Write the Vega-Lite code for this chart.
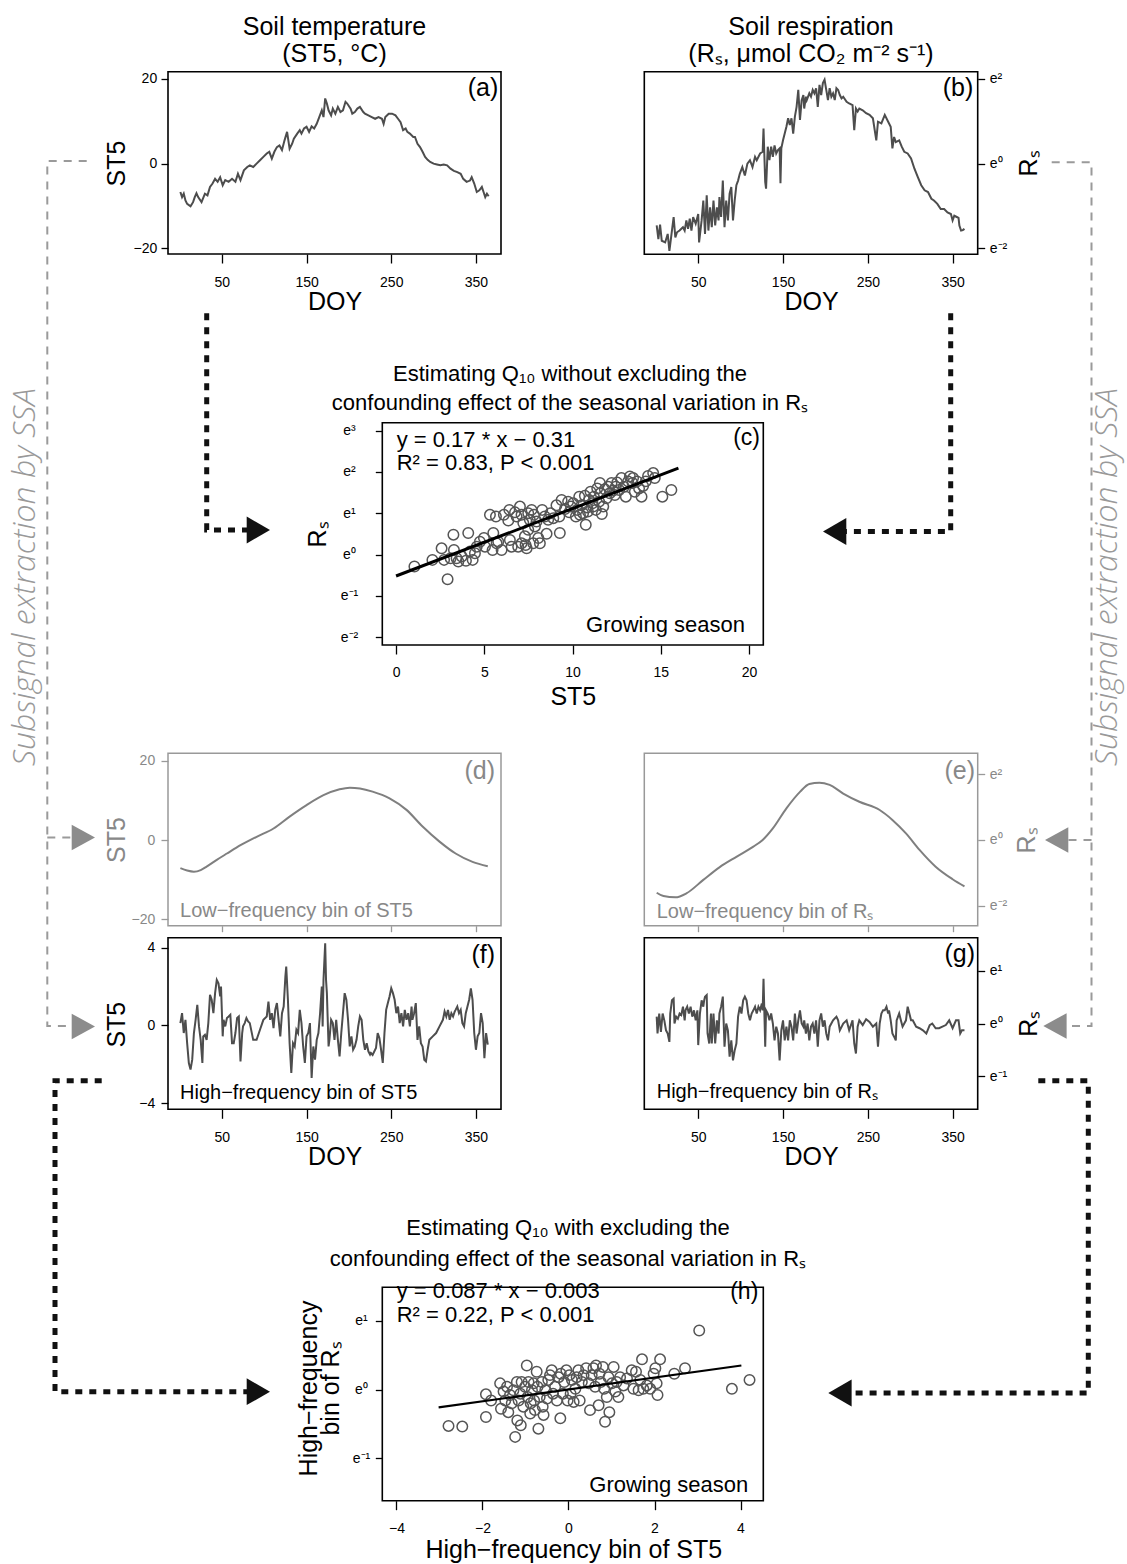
{
"$schema": "https://vega.github.io/schema/vega-lite/v6.json",
"width": 1127, "height": 1564,
"autosize": {"type": "none"},
"padding": 0,
"background": "white",
"config": {
  "font": "Liberation Sans",
  "view": {"stroke": null},
  "axis": {"grid": false, "domain": false, "tickColor": "#000", "tickWidth": 1.3, "labelColor": "#000", "labelFont": "Liberation Sans", "labelFontSize": 14, "titleFont": "Liberation Sans", "titleFontSize": 25, "titleFontWeight": "normal", "titleColor": "#000", "labelFlush": false, "labelOverlap": false, "labelBound": false}
},
"datasets": {
  "st5": [{"doy":1,"st5":-6.7},{"doy":3,"st5":-7.9},{"doy":5,"st5":-7.1},{"doy":7,"st5":-8.7},{"doy":9,"st5":-9.5},{"doy":13,"st5":-10.1},{"doy":16,"st5":-9.1},{"doy":18,"st5":-7.9},{"doy":20,"st5":-7.0},{"doy":22,"st5":-7.9},{"doy":26,"st5":-9.1},{"doy":30,"st5":-7.1},{"doy":33,"st5":-7.5},{"doy":36,"st5":-5.5},{"doy":39,"st5":-4.7},{"doy":42,"st5":-3.6},{"doy":45,"st5":-4.3},{"doy":48,"st5":-3.2},{"doy":51,"st5":-5.1},{"doy":54,"st5":-3.9},{"doy":58,"st5":-4.3},{"doy":62,"st5":-3.6},{"doy":66,"st5":-4.3},{"doy":69,"st5":-2.4},{"doy":72,"st5":-3.9},{"doy":76,"st5":-1.6},{"doy":80,"st5":-0.8},{"doy":83,"st5":-0.4},{"doy":87,"st5":-0.8},{"doy":91,"st5":0.0},{"doy":95,"st5":0.8},{"doy":99,"st5":1.6},{"doy":103,"st5":2.4},{"doy":106,"st5":2.8},{"doy":109,"st5":1.2},{"doy":112,"st5":2.8},{"doy":115,"st5":3.9},{"doy":118,"st5":4.3},{"doy":121,"st5":3.2},{"doy":124,"st5":5.5},{"doy":127,"st5":7.5},{"doy":130,"st5":3.5},{"doy":133,"st5":4.7},{"doy":135,"st5":5.9},{"doy":139,"st5":7.1},{"doy":142,"st5":7.9},{"doy":144,"st5":7.1},{"doy":147,"st5":8.3},{"doy":150,"st5":8.7},{"doy":153,"st5":7.5},{"doy":156,"st5":8.8},{"doy":159,"st5":8.3},{"doy":162,"st5":9.4},{"doy":165,"st5":11.0},{"doy":168,"st5":12.6},{"doy":170,"st5":11.0},{"doy":172,"st5":15.4},{"doy":174,"st5":14.2},{"doy":176,"st5":12.6},{"doy":179,"st5":11.4},{"doy":181,"st5":13.0},{"doy":184,"st5":11.8},{"doy":187,"st5":13.4},{"doy":190,"st5":12.2},{"doy":193,"st5":12.6},{"doy":196,"st5":14.6},{"doy":198,"st5":14.2},{"doy":202,"st5":13.0},{"doy":204,"st5":11.8},{"doy":207,"st5":12.2},{"doy":210,"st5":13.0},{"doy":213,"st5":13.4},{"doy":217,"st5":12.2},{"doy":219,"st5":11.8},{"doy":223,"st5":11.4},{"doy":227,"st5":11.0},{"doy":231,"st5":10.6},{"doy":235,"st5":11.0},{"doy":239,"st5":10.6},{"doy":241,"st5":9.4},{"doy":243,"st5":11.0},{"doy":247,"st5":11.8},{"doy":251,"st5":11.8},{"doy":255,"st5":11.4},{"doy":258,"st5":10.6},{"doy":261,"st5":9.8},{"doy":264,"st5":7.9},{"doy":267,"st5":8.3},{"doy":269,"st5":7.5},{"doy":272,"st5":7.1},{"doy":276,"st5":6.3},{"doy":278,"st5":6.3},{"doy":281,"st5":4.7},{"doy":284,"st5":3.9},{"doy":287,"st5":2.8},{"doy":290,"st5":1.6},{"doy":293,"st5":0.9},{"doy":296,"st5":0.4},{"doy":300,"st5":0.0},{"doy":304,"st5":-0.2},{"doy":308,"st5":-0.4},{"doy":312,"st5":-0.2},{"doy":316,"st5":-0.4},{"doy":320,"st5":-1.2},{"doy":324,"st5":-1.7},{"doy":328,"st5":-2.0},{"doy":332,"st5":-2.4},{"doy":335,"st5":-3.6},{"doy":339,"st5":-4.3},{"doy":343,"st5":-4.0},{"doy":345,"st5":-3.2},{"doy":348,"st5":-4.7},{"doy":351,"st5":-6.7},{"doy":354,"st5":-6.3},{"doy":357,"st5":-5.5},{"doy":359,"st5":-6.7},{"doy":361,"st5":-7.9},{"doy":363,"st5":-7.1},{"doy":365,"st5":-7.7}],
  "rs": [{"doy":1,"rs":-1.46},{"doy":3,"rs":-1.78},{"doy":5,"rs":-1.44},{"doy":7,"rs":-1.82},{"doy":11,"rs":-1.86},{"doy":14,"rs":-1.66},{"doy":16,"rs":-2.06},{"doy":19,"rs":-1.58},{"doy":21,"rs":-1.26},{"doy":23,"rs":-1.74},{"doy":25,"rs":-1.62},{"doy":28,"rs":-1.58},{"doy":32,"rs":-1.5},{"doy":34,"rs":-1.58},{"doy":36,"rs":-1.34},{"doy":38,"rs":-1.54},{"doy":40,"rs":-1.3},{"doy":42,"rs":-1.58},{"doy":44,"rs":-1.26},{"doy":47,"rs":-1.42},{"doy":50,"rs":-1.19},{"doy":51,"rs":-1.86},{"doy":54,"rs":-1.34},{"doy":56,"rs":-0.87},{"doy":58,"rs":-1.66},{"doy":60,"rs":-0.75},{"doy":62,"rs":-1.58},{"doy":64,"rs":-1.03},{"doy":66,"rs":-1.5},{"doy":68,"rs":-0.87},{"doy":70,"rs":-1.46},{"doy":72,"rs":-1.03},{"doy":74,"rs":-1.34},{"doy":75,"rs":-0.79},{"doy":77,"rs":-1.26},{"doy":79,"rs":-0.4},{"doy":81,"rs":-1.5},{"doy":83,"rs":-0.87},{"doy":85,"rs":-1.34},{"doy":87,"rs":-0.71},{"doy":89,"rs":-0.55},{"doy":91,"rs":-1.34},{"doy":93,"rs":-0.87},{"doy":95,"rs":-0.51},{"doy":97,"rs":-0.4},{"doy":99,"rs":-0.24},{"doy":102,"rs":-0.08},{"doy":105,"rs":-0.28},{"doy":108,"rs":0},{"doy":111,"rs":0.08},{"doy":114,"rs":-0.08},{"doy":117,"rs":0.16},{"doy":119,"rs":0.08},{"doy":123,"rs":0.24},{"doy":126,"rs":0.28},{"doy":127,"rs":0.83},{"doy":129,"rs":-0.43},{"doy":130,"rs":-0.59},{"doy":132,"rs":0.4},{"doy":134,"rs":0.08},{"doy":136,"rs":0.4},{"doy":138,"rs":0.16},{"doy":140,"rs":0.43},{"doy":142,"rs":0.24},{"doy":144,"rs":0.32},{"doy":146,"rs":0.36},{"doy":147,"rs":-0.46},{"doy":148,"rs":0.36},{"doy":150,"rs":0.55},{"doy":152,"rs":0.71},{"doy":154,"rs":0.87},{"doy":156,"rs":1.07},{"doy":158,"rs":0.91},{"doy":160,"rs":1.07},{"doy":162,"rs":0.71},{"doy":164,"rs":1.11},{"doy":166,"rs":1.34},{"doy":168,"rs":1.74},{"doy":170,"rs":1.03},{"doy":172,"rs":1.5},{"doy":174,"rs":1.62},{"doy":175,"rs":1.3},{"doy":177,"rs":1.58},{"doy":178,"rs":1.5},{"doy":181,"rs":1.66},{"doy":183,"rs":1.58},{"doy":185,"rs":1.74},{"doy":187,"rs":1.66},{"doy":189,"rs":1.78},{"doy":191,"rs":1.34},{"doy":193,"rs":1.86},{"doy":195,"rs":1.62},{"doy":197,"rs":1.9},{"doy":199,"rs":1.98},{"doy":201,"rs":1.74},{"doy":203,"rs":1.5},{"doy":205,"rs":1.78},{"doy":207,"rs":1.58},{"doy":209,"rs":1.66},{"doy":211,"rs":1.5},{"doy":213,"rs":1.78},{"doy":215,"rs":1.74},{"doy":217,"rs":1.62},{"doy":219,"rs":1.54},{"doy":221,"rs":1.58},{"doy":225,"rs":1.46},{"doy":228,"rs":1.42},{"doy":232,"rs":1.38},{"doy":234,"rs":0.79},{"doy":236,"rs":1.3},{"doy":238,"rs":1.23},{"doy":240,"rs":1.3},{"doy":244,"rs":1.26},{"doy":248,"rs":1.19},{"doy":252,"rs":1.15},{"doy":256,"rs":1.07},{"doy":260,"rs":0.55},{"doy":262,"rs":0.99},{"doy":266,"rs":0.95},{"doy":270,"rs":1.15},{"doy":274,"rs":0.99},{"doy":277,"rs":0.87},{"doy":279,"rs":0.36},{"doy":281,"rs":0.63},{"doy":283,"rs":0.51},{"doy":287,"rs":0.55},{"doy":290,"rs":0.4},{"doy":293,"rs":0.28},{"doy":297,"rs":0.24},{"doy":301,"rs":0.12},{"doy":305,"rs":-0.12},{"doy":309,"rs":-0.32},{"doy":313,"rs":-0.51},{"doy":317,"rs":-0.63},{"doy":321,"rs":-0.67},{"doy":325,"rs":-0.83},{"doy":328,"rs":-0.87},{"doy":332,"rs":-0.95},{"doy":336,"rs":-1.07},{"doy":340,"rs":-1.07},{"doy":344,"rs":-1.15},{"doy":348,"rs":-1.19},{"doy":350,"rs":-1.34},{"doy":352,"rs":-1.23},{"doy":355,"rs":-1.26},{"doy":357,"rs":-1.28},{"doy":358,"rs":-1.46},{"doy":360,"rs":-1.58},{"doy":362,"rs":-1.57},{"doy":364,"rs":-1.54}],
  "st5_low": [{"doy":1,"st5":-7.1},{"doy":9,"st5":-7.7},{"doy":17,"st5":-8.0},{"doy":25,"st5":-7.6},{"doy":32,"st5":-6.7},{"doy":44,"st5":-5.0},{"doy":56,"st5":-3.4},{"doy":72,"st5":-1.3},{"doy":91,"st5":0.8},{"doy":111,"st5":2.9},{"doy":130,"st5":5.9},{"doy":150,"st5":8.8},{"doy":170,"st5":11.3},{"doy":189,"st5":12.8},{"doy":201,"st5":13.2},{"doy":213,"st5":13.0},{"doy":228,"st5":12.2},{"doy":248,"st5":10.5},{"doy":268,"st5":7.6},{"doy":287,"st5":3.4},{"doy":307,"st5":-0.4},{"doy":326,"st5":-3.4},{"doy":346,"st5":-5.5},{"doy":364,"st5":-6.6}],
  "rs_low": [{"doy":1,"rs":-1.6},{"doy":9,"rs":-1.7},{"doy":23,"rs":-1.74},{"doy":36,"rs":-1.62},{"doy":56,"rs":-1.21},{"doy":75,"rs":-0.83},{"doy":95,"rs":-0.51},{"doy":115,"rs":-0.2},{"doy":126,"rs":0},{"doy":138,"rs":0.35},{"doy":154,"rs":0.96},{"doy":170,"rs":1.46},{"doy":181,"rs":1.7},{"doy":193,"rs":1.74},{"doy":205,"rs":1.67},{"doy":221,"rs":1.41},{"doy":240,"rs":1.16},{"doy":264,"rs":0.91},{"doy":279,"rs":0.61},{"doy":295,"rs":0.2},{"doy":311,"rs":-0.3},{"doy":330,"rs":-0.81},{"doy":350,"rs":-1.19},{"doy":364,"rs":-1.41}],
  "st5_high": [{"doy":1,"st5":0.12},{"doy":3,"st5":0.63},{"doy":5,"st5":-0.39},{"doy":7,"st5":0.29},{"doy":9,"st5":-0.91},{"doy":11,"st5":-1.93},{"doy":13,"st5":-2.27},{"doy":15,"st5":-1.76},{"doy":17,"st5":-0.39},{"doy":19,"st5":0.29},{"doy":21,"st5":1.06},{"doy":23,"st5":-0.05},{"doy":25,"st5":-0.74},{"doy":27,"st5":-1.93},{"doy":28,"st5":-0.56},{"doy":30,"st5":-0.48},{"doy":32,"st5":-0.74},{"doy":34,"st5":0.12},{"doy":36,"st5":1.57},{"doy":38,"st5":1.32},{"doy":40,"st5":0.63},{"doy":42,"st5":1.66},{"doy":44,"st5":2.34},{"doy":46,"st5":2.17},{"doy":48,"st5":1.49},{"doy":49,"st5":2.0},{"doy":51,"st5":-0.56},{"doy":52,"st5":0.29},{"doy":54,"st5":-0.05},{"doy":56,"st5":0.38},{"doy":58,"st5":0.46},{"doy":60,"st5":0.55},{"doy":62,"st5":-0.91},{"doy":64,"st5":-0.91},{"doy":66,"st5":-0.39},{"doy":68,"st5":0.38},{"doy":70,"st5":0.46},{"doy":72,"st5":-1.85},{"doy":74,"st5":-0.39},{"doy":75,"st5":-0.05},{"doy":77,"st5":0.12},{"doy":79,"st5":0.38},{"doy":81,"st5":0.21},{"doy":83,"st5":0.12},{"doy":87,"st5":-0.74},{"doy":91,"st5":-0.74},{"doy":95,"st5":-0.22},{"doy":99,"st5":0.29},{"doy":103,"st5":0.46},{"doy":105,"st5":1.23},{"doy":107,"st5":0.29},{"doy":109,"st5":0.63},{"doy":111,"st5":-0.14},{"doy":113,"st5":0.8},{"doy":115,"st5":1.15},{"doy":117,"st5":0.29},{"doy":119,"st5":-0.56},{"doy":121,"st5":0.63},{"doy":123,"st5":0.97},{"doy":125,"st5":2.51},{"doy":126,"st5":3.03},{"doy":128,"st5":1.32},{"doy":130,"st5":-0.91},{"doy":132,"st5":-2.44},{"doy":134,"st5":-0.91},{"doy":136,"st5":-1.08},{"doy":138,"st5":-0.22},{"doy":140,"st5":-0.39},{"doy":142,"st5":0.8},{"doy":144,"st5":0.12},{"doy":146,"st5":-1.08},{"doy":148,"st5":-1.93},{"doy":150,"st5":-0.56},{"doy":152,"st5":-0.39},{"doy":154,"st5":0.12},{"doy":156,"st5":-2.7},{"doy":158,"st5":-1.08},{"doy":160,"st5":-1.76},{"doy":162,"st5":-0.74},{"doy":164,"st5":-0.39},{"doy":166,"st5":0.63},{"doy":168,"st5":2.0},{"doy":169,"st5":-0.05},{"doy":170,"st5":2.34},{"doy":172,"st5":4.22},{"doy":173,"st5":2.34},{"doy":174,"st5":1.66},{"doy":176,"st5":-1.08},{"doy":177,"st5":-0.74},{"doy":179,"st5":0.29},{"doy":181,"st5":0.12},{"doy":183,"st5":-0.74},{"doy":185,"st5":0.29},{"doy":187,"st5":-0.74},{"doy":189,"st5":-1.59},{"doy":191,"st5":-0.39},{"doy":193,"st5":0.63},{"doy":195,"st5":1.66},{"doy":197,"st5":1.32},{"doy":199,"st5":0.29},{"doy":201,"st5":-1.08},{"doy":203,"st5":-0.56},{"doy":205,"st5":-1.25},{"doy":207,"st5":-1.08},{"doy":209,"st5":-0.74},{"doy":211,"st5":-0.05},{"doy":213,"st5":0.46},{"doy":215,"st5":0.29},{"doy":217,"st5":-0.74},{"doy":219,"st5":-1.25},{"doy":221,"st5":-0.91},{"doy":223,"st5":-1.33},{"doy":225,"st5":-1.5},{"doy":226,"st5":-1.42},{"doy":228,"st5":-1.52},{"doy":232,"st5":-1.16},{"doy":234,"st5":-0.39},{"doy":236,"st5":-0.65},{"doy":238,"st5":-1.25},{"doy":240,"st5":-1.93},{"doy":242,"st5":-0.39},{"doy":244,"st5":0.8},{"doy":246,"st5":1.15},{"doy":248,"st5":1.49},{"doy":250,"st5":1.91},{"doy":252,"st5":1.66},{"doy":254,"st5":1.32},{"doy":256,"st5":0.63},{"doy":258,"st5":0.97},{"doy":260,"st5":0.12},{"doy":262,"st5":0.63},{"doy":264,"st5":-0.05},{"doy":266,"st5":0.8},{"doy":268,"st5":0.29},{"doy":270,"st5":0.63},{"doy":272,"st5":-0.05},{"doy":274,"st5":0.97},{"doy":275,"st5":0.29},{"doy":277,"st5":0.63},{"doy":279,"st5":1.15},{"doy":281,"st5":-0.74},{"doy":283,"st5":-0.05},{"doy":285,"st5":-0.91},{"doy":287,"st5":-1.08},{"doy":289,"st5":-1.76},{"doy":291,"st5":-1.85},{"doy":293,"st5":-1.25},{"doy":295,"st5":-0.74},{"doy":299,"st5":-0.56},{"doy":303,"st5":-0.39},{"doy":307,"st5":-0.05},{"doy":311,"st5":0.29},{"doy":313,"st5":0.72},{"doy":315,"st5":0.46},{"doy":317,"st5":0.8},{"doy":319,"st5":0.29},{"doy":321,"st5":0.63},{"doy":323,"st5":0.46},{"doy":325,"st5":0.72},{"doy":326,"st5":0.8},{"doy":328,"st5":0.97},{"doy":330,"st5":0.63},{"doy":332,"st5":0.8},{"doy":334,"st5":0.12},{"doy":336,"st5":-0.05},{"doy":338,"st5":0.63},{"doy":340,"st5":0.97},{"doy":342,"st5":1.32},{"doy":344,"st5":1.91},{"doy":346,"st5":1.32},{"doy":348,"st5":-0.39},{"doy":350,"st5":-1.25},{"doy":352,"st5":-0.56},{"doy":354,"st5":-0.39},{"doy":356,"st5":0.63},{"doy":358,"st5":0.12},{"doy":360,"st5":-1.68},{"doy":362,"st5":-0.39},{"doy":364,"st5":-0.99}],
  "rs_high": [{"doy":1,"rs":0.13},{"doy":2,"rs":-0.19},{"doy":4,"rs":0.19},{"doy":6,"rs":-0.16},{"doy":8,"rs":0.19},{"doy":10,"rs":0.06},{"doy":12,"rs":-0.13},{"doy":14,"rs":-0.19},{"doy":16,"rs":-0.35},{"doy":17,"rs":0.19},{"doy":19,"rs":0.44},{"doy":21,"rs":0.47},{"doy":22,"rs":0},{"doy":24,"rs":0.13},{"doy":26,"rs":0.09},{"doy":28,"rs":0.19},{"doy":30,"rs":0.16},{"doy":32,"rs":0.32},{"doy":34,"rs":0.06},{"doy":35,"rs":0.25},{"doy":37,"rs":0.32},{"doy":39,"rs":0.19},{"doy":41,"rs":0.32},{"doy":43,"rs":0.13},{"doy":45,"rs":0.25},{"doy":47,"rs":0.06},{"doy":49,"rs":0.25},{"doy":50,"rs":-0.41},{"doy":52,"rs":0.19},{"doy":54,"rs":0.44},{"doy":56,"rs":0.32},{"doy":57,"rs":0.44},{"doy":58,"rs":0.51},{"doy":60,"rs":0.54},{"doy":61,"rs":-0.19},{"doy":63,"rs":-0.38},{"doy":65,"rs":0.19},{"doy":66,"rs":-0.38},{"doy":68,"rs":0.19},{"doy":70,"rs":-0.38},{"doy":72,"rs":0.06},{"doy":74,"rs":-0.19},{"doy":75,"rs":0.19},{"doy":77,"rs":0.32},{"doy":79,"rs":0.51},{"doy":81,"rs":-0.44},{"doy":83,"rs":0},{"doy":85,"rs":-0.13},{"doy":87,"rs":-0.63},{"doy":89,"rs":-0.32},{"doy":91,"rs":-0.7},{"doy":93,"rs":-0.51},{"doy":95,"rs":-0.38},{"doy":97,"rs":0.13},{"doy":99,"rs":0.32},{"doy":101,"rs":0.19},{"doy":103,"rs":0.44},{"doy":105,"rs":0.51},{"doy":107,"rs":0.44},{"doy":109,"rs":0.19},{"doy":111,"rs":0.06},{"doy":113,"rs":0.19},{"doy":115,"rs":0.25},{"doy":117,"rs":0.32},{"doy":119,"rs":0.19},{"doy":121,"rs":0.32},{"doy":123,"rs":0.25},{"doy":125,"rs":0.38},{"doy":126,"rs":0.25},{"doy":127,"rs":0.85},{"doy":129,"rs":-0.44},{"doy":130,"rs":0.25},{"doy":132,"rs":0.19},{"doy":134,"rs":0.06},{"doy":136,"rs":0.19},{"doy":138,"rs":0},{"doy":140,"rs":-0.32},{"doy":142,"rs":-0.06},{"doy":144,"rs":-0.19},{"doy":146,"rs":-0.7},{"doy":148,"rs":-0.13},{"doy":150,"rs":0.06},{"doy":152,"rs":-0.32},{"doy":154,"rs":-0.06},{"doy":156,"rs":-0.32},{"doy":158,"rs":0.06},{"doy":160,"rs":-0.06},{"doy":162,"rs":-0.32},{"doy":164,"rs":0.19},{"doy":166,"rs":-0.19},{"doy":168,"rs":0.06},{"doy":170,"rs":0.25},{"doy":172,"rs":0},{"doy":174,"rs":-0.06},{"doy":175,"rs":0.06},{"doy":177,"rs":-0.19},{"doy":179,"rs":0},{"doy":181,"rs":-0.32},{"doy":183,"rs":-0.06},{"doy":185,"rs":0},{"doy":187,"rs":-0.19},{"doy":189,"rs":0.06},{"doy":191,"rs":-0.44},{"doy":193,"rs":0.06},{"doy":195,"rs":0.19},{"doy":197,"rs":-0.06},{"doy":199,"rs":0.06},{"doy":201,"rs":-0.19},{"doy":203,"rs":-0.32},{"doy":205,"rs":-0.06},{"doy":209,"rs":0.06},{"doy":213,"rs":0.13},{"doy":215,"rs":0.06},{"doy":217,"rs":-0.13},{"doy":221,"rs":0},{"doy":225,"rs":0.06},{"doy":228,"rs":-0.13},{"doy":232,"rs":0.06},{"doy":234,"rs":-0.38},{"doy":236,"rs":-0.57},{"doy":238,"rs":-0.06},{"doy":240,"rs":0.06},{"doy":244,"rs":-0.03},{"doy":248,"rs":0.08},{"doy":252,"rs":0.03},{"doy":256,"rs":-0.06},{"doy":260,"rs":0},{"doy":262,"rs":-0.44},{"doy":264,"rs":0},{"doy":266,"rs":0.19},{"doy":268,"rs":0.25},{"doy":270,"rs":0.25},{"doy":272,"rs":0.32},{"doy":274,"rs":0.19},{"doy":275,"rs":0.25},{"doy":277,"rs":0.06},{"doy":279,"rs":-0.19},{"doy":281,"rs":-0.25},{"doy":283,"rs":-0.32},{"doy":284,"rs":0.06},{"doy":287,"rs":0.19},{"doy":289,"rs":0.06},{"doy":291,"rs":-0.06},{"doy":295,"rs":0.06},{"doy":297,"rs":0.32},{"doy":299,"rs":0.19},{"doy":301,"rs":0.06},{"doy":303,"rs":0.06},{"doy":307,"rs":-0.06},{"doy":311,"rs":-0.09},{"doy":315,"rs":-0.13},{"doy":319,"rs":-0.19},{"doy":323,"rs":-0.03},{"doy":326,"rs":0},{"doy":330,"rs":-0.09},{"doy":334,"rs":-0.09},{"doy":338,"rs":-0.06},{"doy":342,"rs":-0.03},{"doy":346,"rs":0.06},{"doy":350,"rs":-0.09},{"doy":354,"rs":0.06},{"doy":357,"rs":0.06},{"doy":359,"rs":-0.19},{"doy":361,"rs":-0.13},{"doy":364,"rs":-0.13}],
  "gs": [{"st5":1.04,"rs":-0.29},{"st5":2.06,"rs":-0.13},{"st5":2.58,"rs":0.15},{"st5":2.72,"rs":-0.13},{"st5":2.92,"rs":-0.6},{"st5":3.25,"rs":0.48},{"st5":3.28,"rs":0.11},{"st5":3.43,"rs":-0.09},{"st5":3.53,"rs":-0.17},{"st5":3.72,"rs":-0.05},{"st5":3.96,"rs":-0.15},{"st5":4.09,"rs":0.52},{"st5":4.19,"rs":0.07},{"st5":4.47,"rs":0.03},{"st5":4.57,"rs":0.19},{"st5":4.98,"rs":0.4},{"st5":5.04,"rs":0.19},{"st5":5.32,"rs":0.96},{"st5":5.51,"rs":0.52},{"st5":5.47,"rs":0.11},{"st5":5.66,"rs":0.92},{"st5":5.79,"rs":0.31},{"st5":5.98,"rs":0.11},{"st5":6.11,"rs":0.96},{"st5":6.36,"rs":0.82},{"st5":6.42,"rs":1.08},{"st5":6.45,"rs":0.35},{"st5":6.55,"rs":0.19},{"st5":6.74,"rs":1.02},{"st5":6.92,"rs":0.19},{"st5":7.02,"rs":1.16},{"st5":7.11,"rs":0.96},{"st5":7.21,"rs":0.76},{"st5":7.3,"rs":0.44},{"st5":7.34,"rs":0.23},{"st5":7.4,"rs":0.15},{"st5":7.49,"rs":1.0},{"st5":7.58,"rs":0.84},{"st5":7.68,"rs":1.08},{"st5":7.81,"rs":0.96},{"st5":7.87,"rs":0.68},{"st5":7.96,"rs":0.8},{"st5":8.06,"rs":0.4},{"st5":8.15,"rs":0.27},{"st5":8.28,"rs":1.08},{"st5":8.43,"rs":0.92},{"st5":8.53,"rs":0.5},{"st5":8.62,"rs":0.84},{"st5":8.75,"rs":1.0},{"st5":8.91,"rs":0.88},{"st5":9.09,"rs":1.19},{"st5":9.25,"rs":0.92},{"st5":9.28,"rs":0.52},{"st5":9.38,"rs":1.32},{"st5":9.57,"rs":1.1},{"st5":9.75,"rs":1.28},{"st5":9.91,"rs":1.16},{"st5":10.04,"rs":1.24},{"st5":10.19,"rs":0.92},{"st5":10.26,"rs":1.08},{"st5":10.38,"rs":1.4},{"st5":10.51,"rs":1.19},{"st5":10.6,"rs":1.0},{"st5":10.7,"rs":1.42},{"st5":10.75,"rs":0.72},{"st5":10.83,"rs":1.14},{"st5":10.94,"rs":1.32},{"st5":11.02,"rs":1.52},{"st5":11.13,"rs":1.24},{"st5":11.21,"rs":1.4},{"st5":11.32,"rs":1.08},{"st5":11.4,"rs":1.6},{"st5":11.51,"rs":1.28},{"st5":11.58,"rs":1.48},{"st5":11.66,"rs":0.98},{"st5":11.74,"rs":1.16},{"st5":11.83,"rs":1.58},{"st5":11.92,"rs":1.36},{"st5":12.02,"rs":1.64},{"st5":12.11,"rs":1.48},{"st5":12.21,"rs":1.73},{"st5":12.3,"rs":1.55},{"st5":12.4,"rs":1.44},{"st5":12.53,"rs":1.74},{"st5":12.64,"rs":1.56},{"st5":12.77,"rs":1.85},{"st5":12.91,"rs":1.64},{"st5":13.02,"rs":1.4},{"st5":13.15,"rs":1.77},{"st5":13.25,"rs":1.89},{"st5":13.4,"rs":1.73},{"st5":13.53,"rs":1.52},{"st5":13.66,"rs":1.77},{"st5":13.91,"rs":1.4},{"st5":14.0,"rs":1.66},{"st5":14.28,"rs":1.9},{"st5":14.57,"rs":1.97},{"st5":14.66,"rs":1.85},{"st5":15.09,"rs":1.4},{"st5":15.6,"rs":1.56},{"st5":10.87,"rs":1.04},{"st5":12.45,"rs":1.64},{"st5":11.55,"rs":1.73},{"st5":11.17,"rs":1.16},{"st5":10.42,"rs":0.96},{"st5":9.81,"rs":1.02},{"st5":13.43,"rs":1.85},{"st5":13.77,"rs":1.6},{"st5":14.15,"rs":1.77},{"st5":7.49,"rs":0.6},{"st5":7.11,"rs":0.27},{"st5":7.77,"rs":0.27},{"st5":6.83,"rs":0.92},{"st5":5.7,"rs":0.27},{"st5":4.75,"rs":0.31},{"st5":4.34,"rs":-0.13},{"st5":3.09,"rs":-0.09}],
  "fit_gs": [{"st5":0,"rs":-0.52},{"st5":16,"rs":2.09}],
  "hf": [{"st5":-2.79,"rs":-0.53},{"st5":-2.47,"rs":-0.54},{"st5":-1.92,"rs":-0.07},{"st5":-1.92,"rs":-0.4},{"st5":-1.8,"rs":-0.16},{"st5":-1.59,"rs":0.09},{"st5":-1.57,"rs":-0.28},{"st5":-1.51,"rs":-0.03},{"st5":-1.47,"rs":-0.16},{"st5":-1.43,"rs":0.04},{"st5":-1.4,"rs":-0.33},{"st5":-1.36,"rs":-0.08},{"st5":-1.32,"rs":-0.2},{"st5":-1.28,"rs":-0.01},{"st5":-1.24,"rs":-0.69},{"st5":-1.2,"rs":0.11},{"st5":-1.19,"rs":-0.45},{"st5":-1.16,"rs":-0.16},{"st5":-1.12,"rs":-0.06},{"st5":-1.11,"rs":-0.52},{"st5":-1.09,"rs":0.11},{"st5":-1.05,"rs":-0.25},{"st5":-1.01,"rs":0.04},{"st5":-0.97,"rs":0.35},{"st5":-0.95,"rs":-0.11},{"st5":-0.93,"rs":0.11},{"st5":-0.89,"rs":-0.35},{"st5":-0.88,"rs":-0.2},{"st5":-0.85,"rs":-0.01},{"st5":-0.81,"rs":0.09},{"st5":-0.8,"rs":-0.16},{"st5":-0.78,"rs":-0.3},{"st5":-0.74,"rs":0.26},{"st5":-0.72,"rs":0.04},{"st5":-0.7,"rs":-0.57},{"st5":-0.67,"rs":-0.11},{"st5":-0.62,"rs":0.11},{"st5":-0.6,"rs":-0.25},{"st5":-0.58,"rs":-0.37},{"st5":-0.54,"rs":-0.01},{"st5":-0.5,"rs":-0.13},{"st5":-0.47,"rs":0.14},{"st5":-0.43,"rs":0.21},{"st5":-0.39,"rs":0.28},{"st5":-0.36,"rs":-0.06},{"st5":-0.31,"rs":0.04},{"st5":-0.27,"rs":-0.16},{"st5":-0.23,"rs":0.18},{"st5":-0.19,"rs":-0.42},{"st5":-0.18,"rs":0.23},{"st5":-0.13,"rs":-0.06},{"st5":-0.1,"rs":0.11},{"st5":-0.05,"rs":0.28},{"st5":-0.02,"rs":-0.16},{"st5":0.02,"rs":0.21},{"st5":0.05,"rs":-0.06},{"st5":0.08,"rs":0.14},{"st5":0.12,"rs":-0.18},{"st5":0.16,"rs":0.01},{"st5":0.19,"rs":0.18},{"st5":0.23,"rs":0.28},{"st5":0.26,"rs":-0.16},{"st5":0.31,"rs":0.11},{"st5":0.35,"rs":0.21},{"st5":0.41,"rs":0.31},{"st5":0.47,"rs":0.09},{"st5":0.5,"rs":-0.3},{"st5":0.54,"rs":0.21},{"st5":0.58,"rs":0.31},{"st5":0.62,"rs":0.04},{"st5":0.64,"rs":0.35},{"st5":0.7,"rs":-0.23},{"st5":0.72,"rs":0.23},{"st5":0.75,"rs":0.11},{"st5":0.8,"rs":0.33},{"st5":0.83,"rs":0.01},{"st5":0.85,"rs":-0.47},{"st5":0.89,"rs":-0.11},{"st5":0.93,"rs":0.18},{"st5":0.95,"rs":-0.33},{"st5":1.01,"rs":0.09},{"st5":1.05,"rs":0.33},{"st5":1.09,"rs":-0.03},{"st5":1.12,"rs":0.11},{"st5":1.16,"rs":-0.11},{"st5":1.2,"rs":0.18},{"st5":1.28,"rs":0.06},{"st5":1.36,"rs":0.16},{"st5":1.47,"rs":0.28},{"st5":1.51,"rs":0.01},{"st5":1.57,"rs":0.26},{"st5":1.63,"rs":-0.01},{"st5":1.67,"rs":0.14},{"st5":1.71,"rs":0.44},{"st5":1.74,"rs":0.01},{"st5":1.82,"rs":0.06},{"st5":1.9,"rs":0.01},{"st5":1.98,"rs":0.23},{"st5":2.02,"rs":0.31},{"st5":2.05,"rs":0.09},{"st5":2.07,"rs":-0.08},{"st5":2.13,"rs":0.44},{"st5":2.46,"rs":0.23},{"st5":2.71,"rs":0.31},{"st5":3.04,"rs":0.86},{"st5":3.8,"rs":0.01},{"st5":4.21,"rs":0.14}],
  "fit_hf": [{"st5":-3.02,"rs":-0.26},{"st5":4.02,"rs":0.35}],
  "gray_paths": [{"path":"L1","seq":1,"fx":86.7,"fy":161},{"path":"L1","seq":2,"fx":47.3,"fy":161},{"path":"L1","seq":3,"fx":47.3,"fy":1026},{"path":"L1","seq":4,"fx":72,"fy":1026},{"path":"L2","seq":1,"fx":47.3,"fy":837.5},{"path":"L2","seq":2,"fx":72,"fy":837.5},{"path":"R1","seq":1,"fx":1051.7,"fy":162.3},{"path":"R1","seq":2,"fx":1091.5,"fy":162.3},{"path":"R1","seq":3,"fx":1091.5,"fy":1026},{"path":"R1","seq":4,"fx":1067,"fy":1026},{"path":"R2","seq":1,"fx":1091.5,"fy":840},{"path":"R2","seq":2,"fx":1068,"fy":840}],
  "black_paths": [{"path":"B1","seq":1,"fx":206.7,"fy":313.3},{"path":"B1","seq":2,"fx":206.7,"fy":530},{"path":"B1","seq":3,"fx":247,"fy":530},{"path":"B2","seq":1,"fx":950.7,"fy":313.3},{"path":"B2","seq":2,"fx":950.7,"fy":531.5},{"path":"B2","seq":3,"fx":846,"fy":531.5},{"path":"B3","seq":1,"fx":101.7,"fy":1080.7},{"path":"B3","seq":2,"fx":55,"fy":1080.7},{"path":"B3","seq":3,"fx":55,"fy":1391.7},{"path":"B3","seq":4,"fx":247,"fy":1391.7},{"path":"B4","seq":1,"fx":1038.3,"fy":1080.7},{"path":"B4","seq":2,"fx":1088.3,"fy":1080.7},{"path":"B4","seq":3,"fx":1088.3,"fy":1393},{"path":"B4","seq":4,"fx":851,"fy":1393}],
  "heads_black_r": [{"fx":270,"fy":530},{"fx":270,"fy":1391.7}],
  "heads_black_l": [{"fx":823,"fy":531.5},{"fx":828.3,"fy":1393}],
  "heads_gray_r": [{"fx":95,"fy":837.5},{"fx":95,"fy":1026.5}],
  "heads_gray_l": [{"fx":1045,"fy":840},{"fx":1043.3,"fy":1026}]
},
"resolve": {"scale": {"x": "independent", "y": "independent"}, "axis": {"x": "independent", "y": "independent"}},
"layer": [
  {"layer": [
    {"data": {"name": "gray_paths"}, "mark": {"type": "line", "color": "#9a9a9a", "strokeWidth": 2, "strokeDash": [8, 7]},
     "encoding": {"x": {"field": "fx", "type": "quantitative", "scale": {"domain": [0, 1127], "range": [0, 1127], "nice": false, "zero": false}, "axis": null},
                  "y": {"field": "fy", "type": "quantitative", "scale": {"domain": [0, 1564], "range": [0, 1564], "nice": false, "zero": false}, "axis": null},
                  "detail": {"field": "path"}, "order": {"field": "seq"}}},
    {"data": {"name": "black_paths"}, "mark": {"type": "line", "color": "#111", "strokeWidth": 5, "strokeDash": [7, 7], "strokeCap": "butt"},
     "encoding": {"x": {"field": "fx", "type": "quantitative", "scale": {"domain": [0, 1127], "range": [0, 1127], "nice": false, "zero": false}, "axis": null},
                  "y": {"field": "fy", "type": "quantitative", "scale": {"domain": [0, 1564], "range": [0, 1564], "nice": false, "zero": false}, "axis": null},
                  "detail": {"field": "path"}, "order": {"field": "seq"}}},
    {"data": {"name": "heads_black_r"}, "mark": {"type": "point", "shape": "M0,0L-2,-1.15L-2,1.15Z", "size": 543, "filled": true, "color": "#111", "opacity": 1},
     "encoding": {"x": {"field": "fx", "type": "quantitative", "scale": {"domain": [0, 1127], "range": [0, 1127], "nice": false, "zero": false}, "axis": null},
                  "y": {"field": "fy", "type": "quantitative", "scale": {"domain": [0, 1564], "range": [0, 1564], "nice": false, "zero": false}, "axis": null}}},
    {"data": {"name": "heads_black_l"}, "mark": {"type": "point", "shape": "M0,0L2,-1.15L2,1.15Z", "size": 543, "filled": true, "color": "#111", "opacity": 1},
     "encoding": {"x": {"field": "fx", "type": "quantitative", "scale": {"domain": [0, 1127], "range": [0, 1127], "nice": false, "zero": false}, "axis": null},
                  "y": {"field": "fy", "type": "quantitative", "scale": {"domain": [0, 1564], "range": [0, 1564], "nice": false, "zero": false}, "axis": null}}},
    {"data": {"name": "heads_gray_r"}, "mark": {"type": "point", "shape": "M0,0L-2,-1.1L-2,1.1Z", "size": 543, "filled": true, "color": "#8c8c8c", "opacity": 1},
     "encoding": {"x": {"field": "fx", "type": "quantitative", "scale": {"domain": [0, 1127], "range": [0, 1127], "nice": false, "zero": false}, "axis": null},
                  "y": {"field": "fy", "type": "quantitative", "scale": {"domain": [0, 1564], "range": [0, 1564], "nice": false, "zero": false}, "axis": null}}},
    {"data": {"name": "heads_gray_l"}, "mark": {"type": "point", "shape": "M0,0L2,-1.1L2,1.1Z", "size": 543, "filled": true, "color": "#8c8c8c", "opacity": 1},
     "encoding": {"x": {"field": "fx", "type": "quantitative", "scale": {"domain": [0, 1127], "range": [0, 1127], "nice": false, "zero": false}, "axis": null},
                  "y": {"field": "fy", "type": "quantitative", "scale": {"domain": [0, 1564], "range": [0, 1564], "nice": false, "zero": false}, "axis": null}}},
    {"data": {"values": [{}]}, "mark": {"type": "text", "text": "Subsignal extraction by SSA", "angle": 270, "align": "center", "baseline": "alphabetic", "font": "Open Sans", "fontStyle": "italic", "fontWeight": 300, "fontSize": 32, "color": "#999"},
     "encoding": {"x": {"datum": 35, "type": "quantitative", "scale": {"domain": [0, 1127], "range": [0, 1127], "nice": false, "zero": false}, "axis": null},
                  "y": {"datum": 577, "type": "quantitative", "scale": {"domain": [0, 1564], "range": [0, 1564], "nice": false, "zero": false}, "axis": null}}},
    {"data": {"values": [{}]}, "mark": {"type": "text", "text": "Subsignal extraction by SSA", "angle": 270, "align": "center", "baseline": "alphabetic", "font": "Open Sans", "fontStyle": "italic", "fontWeight": 300, "fontSize": 32, "color": "#999"},
     "encoding": {"x": {"datum": 1117, "type": "quantitative", "scale": {"domain": [0, 1127], "range": [0, 1127], "nice": false, "zero": false}, "axis": null},
                  "y": {"datum": 577, "type": "quantitative", "scale": {"domain": [0, 1564], "range": [0, 1564], "nice": false, "zero": false}, "axis": null}}}
  ]},
  {"layer": [
    {"data": {"name": "st5"}, "mark": {"type": "line", "color": "#4d4d4d", "strokeWidth": 2},
     "encoding": {
       "x": {"field": "doy", "type": "quantitative", "scale": {"domain": [-13.6, 379.6], "range": [168, 501], "nice": false, "zero": false},
             "axis": {"orient": "bottom", "offset": -1310, "values": [50, 150, 250, 350], "format": "d", "tickSize": 9, "labelPadding": 19.7, "labelBaseline": "middle", "title": "DOY", "titleX": 334.5, "titleY": 47.8, "titleBaseline": "middle", "titleAlign": "center", "titleAngle": 0}},
       "y": {"field": "st5", "type": "quantitative", "scale": {"domain": [-21.35, 21.72], "range": [254, 71.7], "nice": false, "zero": false},
             "axis": {"orient": "left", "offset": -168, "values": [-20, 0, 20], "format": "d", "tickSize": 7, "labelPadding": 4.3, "labelBaseline": "middle", "labelAlign": "right", "title": "ST5", "titleAngle": 270, "titleX": -51.2, "titleY": 163, "titleBaseline": "middle", "titleAlign": "center"}}}},
    {"data": {"values": [{}]}, "mark": {"type": "rect", "fill": "transparent", "stroke": "#000", "strokeWidth": 1.6},
     "encoding": {"x": {"datum": -13.6, "type": "quantitative", "scale": {"domain": [-13.6, 379.6], "range": [168, 501], "nice": false, "zero": false}}, "x2": {"datum": 379.6},
                  "y": {"datum": -21.35, "type": "quantitative", "scale": {"domain": [-21.35, 21.72], "range": [254, 71.7], "nice": false, "zero": false}}, "y2": {"datum": 21.72}}},
    {"data": {"values": [{}]}, "mark": {"type": "text", "text": ["Soil temperature", "(ST5, °C)"], "align": "center", "baseline": "top", "fontSize": 25, "lineHeight": 26.7, "color": "#000"},
     "encoding": {"x": {"datum": 183, "type": "quantitative", "scale": {"domain": [-13.6, 379.6], "range": [168, 501], "nice": false, "zero": false}},
                  "y": {"datum": 35.12, "type": "quantitative", "scale": {"domain": [-21.35, 21.72], "range": [254, 71.7], "nice": false, "zero": false}}}},
    {"data": {"values": [{}]}, "mark": {"type": "text", "text": "(a)", "align": "right", "baseline": "alphabetic", "fontSize": 25, "color": "#000"},
     "encoding": {"x": {"datum": 376.4, "type": "quantitative", "scale": {"domain": [-13.6, 379.6], "range": [168, 501], "nice": false, "zero": false}},
                  "y": {"datum": 16.05, "type": "quantitative", "scale": {"domain": [-21.35, 21.72], "range": [254, 71.7], "nice": false, "zero": false}}}}
  ]},
  {"layer": [
    {"data": {"name": "rs"}, "mark": {"type": "line", "color": "#4d4d4d", "strokeWidth": 2},
     "encoding": {
       "x": {"field": "doy", "type": "quantitative", "scale": {"domain": [-13.6, 379.6], "range": [644.3, 977.7], "nice": false, "zero": false},
             "axis": {"orient": "bottom", "offset": -1310, "values": [50, 150, 250, 350], "format": "d", "tickSize": 9, "labelPadding": 19.7, "labelBaseline": "middle", "title": "DOY", "titleX": 811, "titleY": 47.8, "titleBaseline": "middle", "titleAlign": "center", "titleAngle": 0}},
       "y": {"field": "rs", "type": "quantitative", "scale": {"domain": [-2.14, 2.17], "range": [254.3, 71.7], "nice": false, "zero": false},
             "axis": {"orient": "right", "offset": -149.3, "values": [-2, 0, 2], "tickSize": 7, "labelPadding": 4.6, "labelBaseline": "middle", "labelAlign": "left", "labelFontSize": 14, "labelExpr": "datum.value == 3 ? 'e³' : datum.value == 2 ? 'e²' : datum.value == 1 ? 'e¹' : datum.value == 0 ? 'e⁰' : datum.value == -1 ? 'e⁻¹' : 'e⁻²'", "title": "Rₛ", "titleAngle": 270, "titleX": 50.6, "titleY": 163, "titleBaseline": "middle", "titleAlign": "center"}}}},
    {"data": {"values": [{}]}, "mark": {"type": "rect", "fill": "transparent", "stroke": "#000", "strokeWidth": 1.6},
     "encoding": {"x": {"datum": -13.6, "type": "quantitative", "scale": {"domain": [-13.6, 379.6], "range": [644.3, 977.7], "nice": false, "zero": false}}, "x2": {"datum": 379.6},
                  "y": {"datum": -2.14, "type": "quantitative", "scale": {"domain": [-2.14, 2.17], "range": [254.3, 71.7], "nice": false, "zero": false}}, "y2": {"datum": 2.17}}},
    {"data": {"values": [{}]}, "mark": {"type": "text", "text": ["Soil respiration", "(Rₛ, μmol CO₂ m⁻² s⁻¹)"], "align": "center", "baseline": "top", "fontSize": 25, "lineHeight": 26.7, "color": "#000"},
     "encoding": {"x": {"datum": 183, "type": "quantitative", "scale": {"domain": [-13.6, 379.6], "range": [644.3, 977.7], "nice": false, "zero": false}},
                  "y": {"datum": 3.508, "type": "quantitative", "scale": {"domain": [-2.14, 2.17], "range": [254.3, 71.7], "nice": false, "zero": false}}}},
    {"data": {"values": [{}]}, "mark": {"type": "text", "text": "(b)", "align": "right", "baseline": "alphabetic", "fontSize": 25, "color": "#000"},
     "encoding": {"x": {"datum": 374.4, "type": "quantitative", "scale": {"domain": [-13.6, 379.6], "range": [644.3, 977.7], "nice": false, "zero": false}},
                  "y": {"datum": 1.603, "type": "quantitative", "scale": {"domain": [-2.14, 2.17], "range": [254.3, 71.7], "nice": false, "zero": false}}}}
  ]},
  {"layer": [
    {"data": {"name": "gs"}, "mark": {"type": "point", "shape": "circle", "filled": false, "size": 110, "stroke": "#555", "strokeWidth": 1.5, "opacity": 1},
     "encoding": {
       "x": {"field": "st5", "type": "quantitative", "scale": {"domain": [-0.78, 20.81], "range": [382.3, 763.3], "nice": false, "zero": false},
             "axis": {"orient": "bottom", "offset": -919, "values": [0, 5, 10, 15, 20], "format": "d", "tickSize": 9, "labelPadding": 18.7, "labelBaseline": "middle", "title": "ST5", "titleX": 572.8, "titleY": 51.8, "titleBaseline": "middle", "titleAlign": "center", "titleAngle": 0}},
       "y": {"field": "rs", "type": "quantitative", "scale": {"domain": [-2.19, 3.19], "range": [645, 422.7], "nice": false, "zero": false},
             "axis": {"orient": "left", "offset": -382.3, "values": [-2, -1, 0, 1, 2, 3], "tickSize": 7, "labelPadding": 26.3, "labelBaseline": "middle", "labelAlign": "center", "labelFontSize": 14, "labelExpr": "datum.value == 3 ? 'e³' : datum.value == 2 ? 'e²' : datum.value == 1 ? 'e¹' : datum.value == 0 ? 'e⁰' : datum.value == -1 ? 'e⁻¹' : 'e⁻²'", "title": "Rₛ", "titleAngle": 270, "titleX": -64.6, "titleY": 533.9, "titleBaseline": "middle", "titleAlign": "center"}}}},
    {"data": {"name": "fit_gs"}, "mark": {"type": "line", "color": "#000", "strokeWidth": 3},
     "encoding": {"x": {"field": "st5", "type": "quantitative", "scale": {"domain": [-0.78, 20.81], "range": [382.3, 763.3], "nice": false, "zero": false}},
                  "y": {"field": "rs", "type": "quantitative", "scale": {"domain": [-2.19, 3.19], "range": [645, 422.7], "nice": false, "zero": false}}}},
    {"data": {"values": [{}]}, "mark": {"type": "rect", "fill": "transparent", "stroke": "#000", "strokeWidth": 1.6},
     "encoding": {"x": {"datum": -0.78, "type": "quantitative", "scale": {"domain": [-0.78, 20.81], "range": [382.3, 763.3], "nice": false, "zero": false}}, "x2": {"datum": 20.81},
                  "y": {"datum": -2.19, "type": "quantitative", "scale": {"domain": [-2.19, 3.19], "range": [645, 422.7], "nice": false, "zero": false}}, "y2": {"datum": 3.19}}},
    {"data": {"values": [{}]}, "mark": {"type": "text", "text": ["Estimating Q₁₀ without excluding the", "confounding effect of the seasonal variation in Rₛ"], "align": "center", "baseline": "top", "fontSize": 22, "lineHeight": 29.3, "color": "#000"},
     "encoding": {"x": {"datum": 9.856, "type": "quantitative", "scale": {"domain": [-0.78, 20.81], "range": [382.3, 763.3], "nice": false, "zero": false}},
                  "y": {"datum": 4.618, "type": "quantitative", "scale": {"domain": [-2.19, 3.19], "range": [645, 422.7], "nice": false, "zero": false}}}},
    {"data": {"values": [{}]}, "mark": {"type": "text", "text": ["y = 0.17 * x − 0.31", "R² = 0.83, P < 0.001"], "align": "left", "baseline": "top", "fontSize": 22, "lineHeight": 23.3, "color": "#000"},
     "encoding": {"x": {"datum": 0.036, "type": "quantitative", "scale": {"domain": [-0.78, 20.81], "range": [382.3, 763.3], "nice": false, "zero": false}},
                  "y": {"datum": 3.02, "type": "quantitative", "scale": {"domain": [-2.19, 3.19], "range": [645, 422.7], "nice": false, "zero": false}}}},
    {"data": {"values": [{}]}, "mark": {"type": "text", "text": "(c)", "align": "right", "baseline": "alphabetic", "fontSize": 23, "color": "#000"},
     "encoding": {"x": {"datum": 20.623, "type": "quantitative", "scale": {"domain": [-0.78, 20.81], "range": [382.3, 763.3], "nice": false, "zero": false}},
                  "y": {"datum": 2.643, "type": "quantitative", "scale": {"domain": [-2.19, 3.19], "range": [645, 422.7], "nice": false, "zero": false}}}},
    {"data": {"values": [{}]}, "mark": {"type": "text", "text": "Growing season", "align": "right", "baseline": "alphabetic", "fontSize": 22, "color": "#000"},
     "encoding": {"x": {"datum": 19.773, "type": "quantitative", "scale": {"domain": [-0.78, 20.81], "range": [382.3, 763.3], "nice": false, "zero": false}},
                  "y": {"datum": -1.868, "type": "quantitative", "scale": {"domain": [-2.19, 3.19], "range": [645, 422.7], "nice": false, "zero": false}}}}
  ]},
  {"layer": [
    {"data": {"name": "st5_low"}, "mark": {"type": "line", "color": "#7f7f7f", "strokeWidth": 2, "interpolate": "monotone"},
     "encoding": {
       "x": {"field": "doy", "type": "quantitative", "scale": {"domain": [-13.6, 379.6], "range": [168, 501], "nice": false, "zero": false},
             "axis": {"orient": "bottom", "offset": -638.3, "values": [50, 150, 250, 350], "tickSize": 6, "tickColor": "#999", "labels": false, "title": null}},
       "y": {"field": "st5", "type": "quantitative", "scale": {"domain": [-21.61, 21.87], "range": [925.7, 753.3], "nice": false, "zero": false},
             "axis": {"orient": "left", "offset": -168, "values": [-20, 0, 20], "format": "d", "tickSize": 7, "tickColor": "#999", "labelColor": "#888", "labelPadding": 6.3, "labelBaseline": "middle", "labelAlign": "right", "title": "ST5", "titleColor": "#888", "titleAngle": 270, "titleX": -52, "titleY": 839.5, "titleBaseline": "middle", "titleAlign": "center"}}}},
    {"data": {"values": [{}]}, "mark": {"type": "rect", "fill": "transparent", "stroke": "#999", "strokeWidth": 1.5},
     "encoding": {"x": {"datum": -13.6, "type": "quantitative", "scale": {"domain": [-13.6, 379.6], "range": [168, 501], "nice": false, "zero": false}}, "x2": {"datum": 379.6},
                  "y": {"datum": -21.61, "type": "quantitative", "scale": {"domain": [-21.61, 21.87], "range": [925.7, 753.3], "nice": false, "zero": false}}, "y2": {"datum": 21.87}}},
    {"data": {"values": [{}]}, "mark": {"type": "text", "text": "(d)", "align": "right", "baseline": "alphabetic", "fontSize": 25, "color": "#888"},
     "encoding": {"x": {"datum": 372.5, "type": "quantitative", "scale": {"domain": [-13.6, 379.6], "range": [168, 501], "nice": false, "zero": false}},
                  "y": {"datum": 15.39, "type": "quantitative", "scale": {"domain": [-21.61, 21.87], "range": [925.7, 753.3], "nice": false, "zero": false}}}},
    {"data": {"values": [{}]}, "mark": {"type": "text", "text": "Low−frequency bin of ST5", "align": "left", "baseline": "alphabetic", "fontSize": 20, "color": "#888"},
     "encoding": {"x": {"datum": 0.6, "type": "quantitative", "scale": {"domain": [-13.6, 379.6], "range": [168, 501], "nice": false, "zero": false}},
                  "y": {"datum": -19.34, "type": "quantitative", "scale": {"domain": [-21.61, 21.87], "range": [925.7, 753.3], "nice": false, "zero": false}}}}
  ]},
  {"layer": [
    {"data": {"name": "rs_low"}, "mark": {"type": "line", "color": "#7f7f7f", "strokeWidth": 2, "interpolate": "monotone"},
     "encoding": {
       "x": {"field": "doy", "type": "quantitative", "scale": {"domain": [-13.6, 379.6], "range": [644.3, 977.7], "nice": false, "zero": false},
             "axis": {"orient": "bottom", "offset": -638.3, "values": [50, 150, 250, 350], "tickSize": 6, "tickColor": "#999", "labels": false, "title": null}},
       "y": {"field": "rs", "type": "quantitative", "scale": {"domain": [-2.6, 2.63], "range": [925.7, 753.3], "nice": false, "zero": false},
             "axis": {"orient": "right", "offset": -149.3, "values": [-2, 0, 2], "tickSize": 7, "tickColor": "#999", "labelColor": "#888", "labelPadding": 4.6, "labelBaseline": "middle", "labelAlign": "left", "labelFontSize": 14, "labelExpr": "datum.value == 3 ? 'e³' : datum.value == 2 ? 'e²' : datum.value == 1 ? 'e¹' : datum.value == 0 ? 'e⁰' : datum.value == -1 ? 'e⁻¹' : 'e⁻²'", "title": "Rₛ", "titleColor": "#888", "titleAngle": 270, "titleX": 49.1, "titleY": 840, "titleBaseline": "middle", "titleAlign": "center"}}}},
    {"data": {"values": [{}]}, "mark": {"type": "rect", "fill": "transparent", "stroke": "#999", "strokeWidth": 1.5},
     "encoding": {"x": {"datum": -13.6, "type": "quantitative", "scale": {"domain": [-13.6, 379.6], "range": [644.3, 977.7], "nice": false, "zero": false}}, "x2": {"datum": 379.6},
                  "y": {"datum": -2.6, "type": "quantitative", "scale": {"domain": [-2.6, 2.63], "range": [925.7, 753.3], "nice": false, "zero": false}}, "y2": {"datum": 2.63}}},
    {"data": {"values": [{}]}, "mark": {"type": "text", "text": "(e)", "align": "right", "baseline": "alphabetic", "fontSize": 25, "color": "#888"},
     "encoding": {"x": {"datum": 376.4, "type": "quantitative", "scale": {"domain": [-13.6, 379.6], "range": [644.3, 977.7], "nice": false, "zero": false}},
                  "y": {"datum": 1.851, "type": "quantitative", "scale": {"domain": [-2.6, 2.63], "range": [925.7, 753.3], "nice": false, "zero": false}}}},
    {"data": {"values": [{}]}, "mark": {"type": "text", "text": "Low−frequency bin of Rₛ", "align": "left", "baseline": "alphabetic", "fontSize": 20, "color": "#888"},
     "encoding": {"x": {"datum": 1.02, "type": "quantitative", "scale": {"domain": [-13.6, 379.6], "range": [644.3, 977.7], "nice": false, "zero": false}},
                  "y": {"datum": -2.357, "type": "quantitative", "scale": {"domain": [-2.6, 2.63], "range": [925.7, 753.3], "nice": false, "zero": false}}}}
  ]},
  {"layer": [
    {"data": {"name": "st5_high"}, "mark": {"type": "line", "color": "#4d4d4d", "strokeWidth": 2},
     "encoding": {
       "x": {"field": "doy", "type": "quantitative", "scale": {"domain": [-13.6, 379.6], "range": [168, 501], "nice": false, "zero": false},
             "axis": {"orient": "bottom", "offset": -454.7, "values": [50, 150, 250, 350], "format": "d", "tickSize": 9, "labelPadding": 19.4, "labelBaseline": "middle", "title": "DOY", "titleX": 334.7, "titleY": 47.5, "titleBaseline": "middle", "titleAlign": "center", "titleAngle": 0}},
       "y": {"field": "st5", "type": "quantitative", "scale": {"domain": [-4.31, 4.51], "range": [1109.3, 937.7], "nice": false, "zero": false},
             "axis": {"orient": "left", "offset": -168, "values": [-4, 0, 4], "format": "d", "tickSize": 7, "labelPadding": 6.3, "labelBaseline": "middle", "labelAlign": "right", "title": "ST5", "titleAngle": 270, "titleX": -52, "titleY": 1024.2, "titleBaseline": "middle", "titleAlign": "center"}}}},
    {"data": {"values": [{}]}, "mark": {"type": "rect", "fill": "transparent", "stroke": "#000", "strokeWidth": 1.6},
     "encoding": {"x": {"datum": -13.6, "type": "quantitative", "scale": {"domain": [-13.6, 379.6], "range": [168, 501], "nice": false, "zero": false}}, "x2": {"datum": 379.6},
                  "y": {"datum": -4.31, "type": "quantitative", "scale": {"domain": [-4.31, 4.51], "range": [1109.3, 937.7], "nice": false, "zero": false}}, "y2": {"datum": 4.51}}},
    {"data": {"values": [{}]}, "mark": {"type": "text", "text": "(f)", "align": "right", "baseline": "alphabetic", "fontSize": 25, "color": "#000"},
     "encoding": {"x": {"datum": 372.5, "type": "quantitative", "scale": {"domain": [-13.6, 379.6], "range": [168, 501], "nice": false, "zero": false}},
                  "y": {"datum": 3.194, "type": "quantitative", "scale": {"domain": [-4.31, 4.51], "range": [1109.3, 937.7], "nice": false, "zero": false}}}},
    {"data": {"values": [{}]}, "mark": {"type": "text", "text": "High−frequency bin of ST5", "align": "left", "baseline": "alphabetic", "fontSize": 20, "color": "#000"},
     "encoding": {"x": {"datum": 0.6, "type": "quantitative", "scale": {"domain": [-13.6, 379.6], "range": [168, 501], "nice": false, "zero": false}},
                  "y": {"datum": -3.781, "type": "quantitative", "scale": {"domain": [-4.31, 4.51], "range": [1109.3, 937.7], "nice": false, "zero": false}}}}
  ]},
  {"layer": [
    {"data": {"name": "rs_high"}, "mark": {"type": "line", "color": "#4d4d4d", "strokeWidth": 2},
     "encoding": {
       "x": {"field": "doy", "type": "quantitative", "scale": {"domain": [-13.6, 379.6], "range": [644.3, 977.7], "nice": false, "zero": false},
             "axis": {"orient": "bottom", "offset": -454.7, "values": [50, 150, 250, 350], "format": "d", "tickSize": 9, "labelPadding": 19.4, "labelBaseline": "middle", "title": "DOY", "titleX": 811, "titleY": 47.5, "titleBaseline": "middle", "titleAlign": "center", "titleAngle": 0}},
       "y": {"field": "rs", "type": "quantitative", "scale": {"domain": [-1.63, 1.63], "range": [1109.3, 937.7], "nice": false, "zero": false},
             "axis": {"orient": "right", "offset": -149.3, "values": [-1, 0, 1], "tickSize": 7, "labelPadding": 4.6, "labelBaseline": "middle", "labelAlign": "left", "labelFontSize": 14, "labelExpr": "datum.value == 3 ? 'e³' : datum.value == 2 ? 'e²' : datum.value == 1 ? 'e¹' : datum.value == 0 ? 'e⁰' : datum.value == -1 ? 'e⁻¹' : 'e⁻²'", "title": "Rₛ", "titleAngle": 270, "titleX": 50.3, "titleY": 1023.3, "titleBaseline": "middle", "titleAlign": "center"}}}},
    {"data": {"values": [{}]}, "mark": {"type": "rect", "fill": "transparent", "stroke": "#000", "strokeWidth": 1.6},
     "encoding": {"x": {"datum": -13.6, "type": "quantitative", "scale": {"domain": [-13.6, 379.6], "range": [644.3, 977.7], "nice": false, "zero": false}}, "x2": {"datum": 379.6},
                  "y": {"datum": -1.63, "type": "quantitative", "scale": {"domain": [-1.63, 1.63], "range": [1109.3, 937.7], "nice": false, "zero": false}}, "y2": {"datum": 1.63}}},
    {"data": {"values": [{}]}, "mark": {"type": "text", "text": "(g)", "align": "right", "baseline": "alphabetic", "fontSize": 25, "color": "#000"},
     "encoding": {"x": {"datum": 376.4, "type": "quantitative", "scale": {"domain": [-13.6, 379.6], "range": [644.3, 977.7], "nice": false, "zero": false}},
                  "y": {"datum": 1.174, "type": "quantitative", "scale": {"domain": [-1.63, 1.63], "range": [1109.3, 937.7], "nice": false, "zero": false}}}},
    {"data": {"values": [{}]}, "mark": {"type": "text", "text": "High−frequency bin of Rₛ", "align": "left", "baseline": "alphabetic", "fontSize": 20, "color": "#000"},
     "encoding": {"x": {"datum": 1.02, "type": "quantitative", "scale": {"domain": [-13.6, 379.6], "range": [644.3, 977.7], "nice": false, "zero": false}},
                  "y": {"datum": -1.421, "type": "quantitative", "scale": {"domain": [-1.63, 1.63], "range": [1109.3, 937.7], "nice": false, "zero": false}}}}
  ]},
  {"layer": [
    {"data": {"name": "hf"}, "mark": {"type": "point", "shape": "circle", "filled": false, "size": 110, "stroke": "#555", "strokeWidth": 1.5, "opacity": 1},
     "encoding": {
       "x": {"field": "st5", "type": "quantitative", "scale": {"domain": [-4.33, 4.53], "range": [382.3, 763.3], "nice": false, "zero": false},
             "axis": {"orient": "bottom", "offset": -63.3, "values": [-4, -2, 0, 2, 4], "format": "d", "tickSize": 9, "labelPadding": 18.4, "labelBaseline": "middle", "title": "High−frequency bin of ST5", "titleX": 573.3, "titleY": 48.6, "titleBaseline": "middle", "titleAlign": "center", "titleAngle": 0}},
       "y": {"field": "rs", "type": "quantitative", "scale": {"domain": [-1.62, 1.49], "range": [1500.7, 1287.3], "nice": false, "zero": false},
             "axis": {"orient": "left", "offset": -382.3, "values": [-1, 0, 1], "tickSize": 7, "labelPadding": 14.3, "labelBaseline": "middle", "labelAlign": "center", "labelFontSize": 14, "labelExpr": "datum.value == 3 ? 'e³' : datum.value == 2 ? 'e²' : datum.value == 1 ? 'e¹' : datum.value == 0 ? 'e⁰' : datum.value == -1 ? 'e⁻¹' : 'e⁻²'", "title": ["High−frequency", "bin of Rₛ"], "titleLineHeight": 21.6, "titleAngle": 270, "titleX": -85.6, "titleY": 1388, "titleBaseline": "top", "titleAlign": "center"}}}},
    {"data": {"name": "fit_hf"}, "mark": {"type": "line", "color": "#000", "strokeWidth": 2.2},
     "encoding": {"x": {"field": "st5", "type": "quantitative", "scale": {"domain": [-4.33, 4.53], "range": [382.3, 763.3], "nice": false, "zero": false}},
                  "y": {"field": "rs", "type": "quantitative", "scale": {"domain": [-1.62, 1.49], "range": [1500.7, 1287.3], "nice": false, "zero": false}}}},
    {"data": {"values": [{}]}, "mark": {"type": "rect", "fill": "transparent", "stroke": "#000", "strokeWidth": 1.6},
     "encoding": {"x": {"datum": -4.33, "type": "quantitative", "scale": {"domain": [-4.33, 4.53], "range": [382.3, 763.3], "nice": false, "zero": false}}, "x2": {"datum": 4.53},
                  "y": {"datum": -1.62, "type": "quantitative", "scale": {"domain": [-1.62, 1.49], "range": [1500.7, 1287.3], "nice": false, "zero": false}}, "y2": {"datum": 1.49}}},
    {"data": {"values": [{}]}, "mark": {"type": "text", "text": ["Estimating Q₁₀ with excluding the", "confounding effect of the seasonal variation in Rₛ"], "align": "center", "baseline": "top", "fontSize": 22, "lineHeight": 31.5, "color": "#000"},
     "encoding": {"x": {"datum": -0.012, "type": "quantitative", "scale": {"domain": [-4.33, 4.53], "range": [382.3, 763.3], "nice": false, "zero": false}},
                  "y": {"datum": 2.5, "type": "quantitative", "scale": {"domain": [-1.62, 1.49], "range": [1500.7, 1287.3], "nice": false, "zero": false}}}},
    {"data": {"values": [{}]}, "mark": {"type": "text", "text": ["y = 0.087 * x − 0.003", "R² = 0.22, P < 0.001"], "align": "left", "baseline": "top", "fontSize": 22, "lineHeight": 23.4, "color": "#000"},
     "encoding": {"x": {"datum": -3.995, "type": "quantitative", "scale": {"domain": [-4.33, 4.53], "range": [382.3, 763.3], "nice": false, "zero": false}},
                  "y": {"datum": 1.578, "type": "quantitative", "scale": {"domain": [-1.62, 1.49], "range": [1500.7, 1287.3], "nice": false, "zero": false}}}},
    {"data": {"values": [{}]}, "mark": {"type": "text", "text": "(h)", "align": "right", "baseline": "alphabetic", "fontSize": 23, "color": "#000"},
     "encoding": {"x": {"datum": 4.414, "type": "quantitative", "scale": {"domain": [-4.33, 4.53], "range": [382.3, 763.3], "nice": false, "zero": false}},
                  "y": {"datum": 1.324, "type": "quantitative", "scale": {"domain": [-1.62, 1.49], "range": [1500.7, 1287.3], "nice": false, "zero": false}}}},
    {"data": {"values": [{}]}, "mark": {"type": "text", "text": "Growing season", "align": "right", "baseline": "alphabetic", "fontSize": 22, "color": "#000"},
     "encoding": {"x": {"datum": 4.181, "type": "quantitative", "scale": {"domain": [-4.33, 4.53], "range": [382.3, 763.3], "nice": false, "zero": false}},
                  "y": {"datum": -1.489, "type": "quantitative", "scale": {"domain": [-1.62, 1.49], "range": [1500.7, 1287.3], "nice": false, "zero": false}}}}
  ]}
]
}
